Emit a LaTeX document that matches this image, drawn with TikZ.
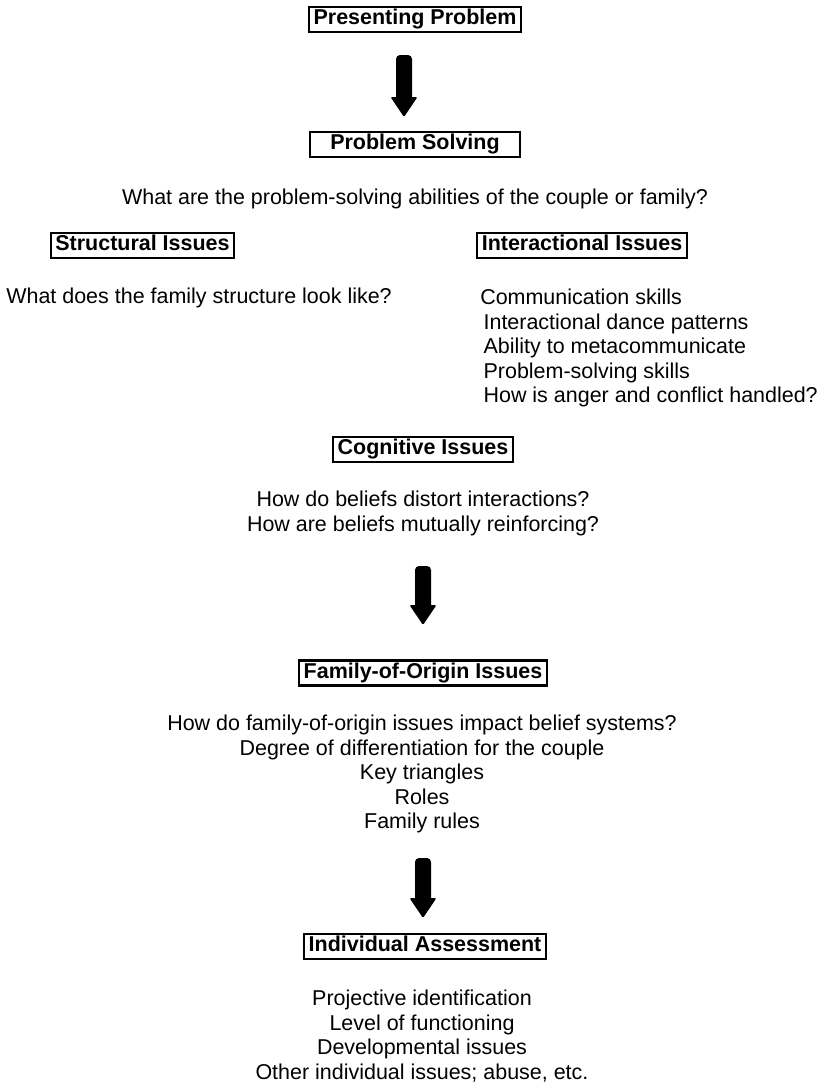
\documentclass[tikz,border=0pt]{standalone}
\usepackage{fontspec}
\setmainfont{Liberation Sans}
\usepackage{tikz}
\newcommand{\BodyFont}{\fontsize{16.1}{18.4}\selectfont}
% fat down arrow: #1 = x, #2 = top of shaft, #3 = base of head, #4 = tip
\newcommand{\FatArrow}[4]{\fill[rounded corners=3] (#1-8,#2) rectangle (#1+8,#3+4); \fill[rounded corners=1] (#1-13.5,#3) -- (#1+13.5,#3) -- (#1,#4) -- cycle;}
\tikzset{
  issue/.style={draw, line width=1.6pt, font=\BodyFont\bfseries, inner xsep=3.4pt, inner ysep=1.9pt, text height=11.5pt, text depth=3.5pt},
  say/.style={font=\BodyFont, align=center, inner sep=0pt},
  saylist/.style={font=\BodyFont, align=left, inner sep=0pt, anchor=west}
}

\begin{document}
\begin{tikzpicture}[x=0.75pt,y=-0.75pt]
		\useasboundingbox (0,0) rectangle (818,1083);
		% Boxes
		\node[issue] (pres) at (415,19.5) {Presenting Problem};
		\node[issue, minimum width=157.5pt] (solve) at (415,144.5) {Problem Solving};
		\node[issue] (struct) at (142.5,245.5) {Structural Issues};
		\node[issue] (inter) at (582,245.5) {Interactional Issues};
		\node[issue] (cogn) at (423,449.5) {Cognitive Issues};
		\node[issue] (fam) at (423,673) {Family-of-Origin Issues};
		\node[issue] (indiv) at (425,946.5) {Individual Assessment};
		% Texts
		\node[say] (solveq) at (415,199) {What are the problem-solving abilities of the couple or family?};
		\node[say] (structq) at (199,298) {What does the family structure look like?};
		\node[saylist] (interq) at (480,348) {Communication skills\\
			\hspace*{2.5pt}Interactional dance patterns\\
			\hspace*{2.5pt}Ability to metacommunicate\\
			\hspace*{2.5pt}Problem-solving skills\\
			\hspace*{2.5pt}How is anger and conflict handled?};
		\node[say] (cognq) at (423,513.5) {How do beliefs distort interactions?\\
			How are beliefs mutually reinforcing?};
		\node[say] (famq) at (422,774) {How do family-of-origin issues impact belief systems?\\
			Degree of differentiation for the couple\\
			Key triangles\\
			Roles\\
			Family rules};
		\node[say] (indivq) at (422,1036) {Projective identification\\
			Level of functioning\\
			Developmental issues\\
			Other individual issues; abuse, etc.};
		% Arrows
		\FatArrow{404}{55}{97}{117}
		\FatArrow{423}{566}{605}{625}
		\FatArrow{423}{858}{898}{918}
\end{tikzpicture}
\end{document}
